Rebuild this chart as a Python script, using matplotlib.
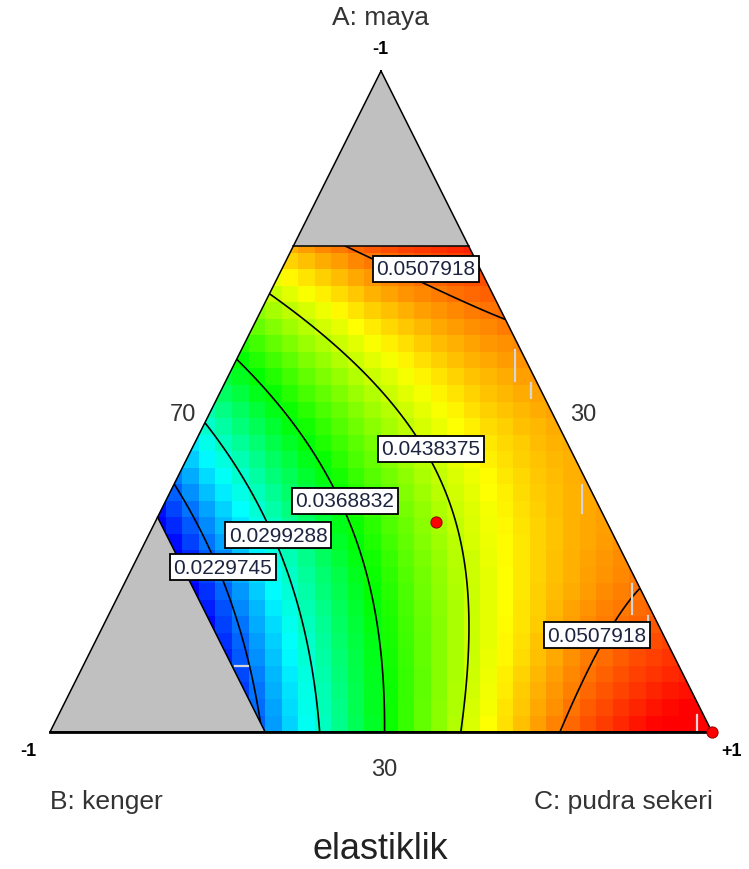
import numpy as np
import matplotlib
matplotlib.use("Agg")
import matplotlib.pyplot as plt
from matplotlib.colors import LinearSegmentedColormap
from matplotlib.patches import Polygon

plt.rcParams['font.family'] = ['Liberation Sans', 'DejaVu Sans']

# response: elastiklik, contour levels as printed on the chart
levels = [0.0229745, 0.0299288, 0.0368832, 0.0438375, 0.0507918]

# contour traces, (A, C) proportions, B = 1 - A - C
trace_1 = [(0.375, 0.005), (0.325, 0.056), (0.277, 0.104), (0.216, 0.164),
           (0.121, 0.237), (0.035, 0.295), (0.008, 0.315)]
trace_2 = [(0.464, 0.005), (0.418, 0.058), (0.375, 0.104), (0.319, 0.165),
           (0.262, 0.219), (0.201, 0.272), (0.130, 0.328), (0.005, 0.402)]
trace_3 = [(0.561, 0.006), (0.499, 0.097), (0.433, 0.177), (0.372, 0.237),
           (0.318, 0.294), (0.206, 0.380), (0.130, 0.433), (0.005, 0.504)]
trace_4 = [(0.666, 0.001), (0.599, 0.108), (0.545, 0.201), (0.484, 0.282),
           (0.398, 0.383), (0.307, 0.461), (0.231, 0.515), (0.156, 0.556),
           (0.080, 0.590), (0.005, 0.620)]
trace_5 = [(0.732, 0.095), (0.681, 0.229), (0.648, 0.326), (0.629, 0.375),
           (0.219, 0.784), (0.160, 0.770), (0.121, 0.765), (0.065, 0.768),
           (0.005, 0.768)]
traces = [trace_1, trace_2, trace_3, trace_4, trace_5]

# colour readings at a few spots (A, C, value)
spot_values = [(0.325, 0.0, 0.0195), (0.0, 1.0, 0.0565), (0.735, 0.0, 0.0490),
               (0.735, 0.265, 0.0540), (0.40, 0.60, 0.0490)]

# value range of the colour scale (blue .. red)
color_lo, color_hi = 0.0190, 0.0550

# constraints of the mixture region
a_max = 0.735
b_max = 0.675

# design points (A, C)
design_pts = [(0.318, 0.424), (0.0, 1.0)]

# faint marks inside the region: (A, C, length in px, vertical?)
faint_marks = [(0.554, 0.425, 31, True), (0.516, 0.469, 15, True),
               (0.352, 0.628, 28, True), (0.201, 0.778, 30, True),
               (0.171, 0.818, 6, True), (0.014, 0.970, 15, True),
               (0.100, 0.239, 13, False)]


def terms(a, b, c):
    return np.stack([a, b, c, a * b, a * c, b * c, a * b * c,
                     a * b * (a - b), a * c * (a - c), b * c * (b - c)], axis=-1)


rows, vals = [], []
for lev, tr in zip(levels, traces):
    for a, c in tr:
        rows.append((a, c))
        vals.append(lev)
for a, c, v in spot_values:
    rows.append((a, c))
    vals.append(v)
rows = np.array(rows)
A_, C_ = rows[:, 0], rows[:, 1]
X = terms(A_, 1 - A_ - C_, C_)
coef, *_ = np.linalg.lstsq(X, np.array(vals), rcond=None)


def model(a, c):
    return terms(a, 1 - a - c, c) @ coef


def to_xy(a, c):
    return c + a / 2.0, a


W, H = 749, 870
fig = plt.figure(figsize=(W / 100, H / 100), dpi=100)
left_px, right_px, top_px, bot_px = 50, 712, 72, 733
ax = fig.add_axes([left_px / W, 1 - bot_px / H, (right_px - left_px) / W,
                   (bot_px - top_px) / H])
ax.set_xlim(0, 1)
ax.set_ylim(0, 1)
ax.axis('off')

# whole simplex in gray
tri = Polygon([to_xy(1, 0), to_xy(0, 0), to_xy(0, 1)], closed=True,
              facecolor='#c0c0c0', edgecolor='none', zorder=1)
ax.add_patch(tri)

# feasible region
region = [to_xy(a_max, 0), to_xy(a_max, 1 - a_max), to_xy(0, 1),
          to_xy(0, 1 - b_max), to_xy(1 - b_max, 0)]
clip = Polygon(region, closed=True, facecolor='none', edgecolor='none')
ax.add_patch(clip)

# coloured cells, 40 x 40
n = 40
cx = (np.arange(n) + 0.5) / n
gx, gy = np.meshgrid(cx, cx)
ga = gy
gc = gx - ga / 2
zc = model(ga, gc)
cmap = LinearSegmentedColormap.from_list(
    'de', ['#0000ff', '#00ffff', '#00ff00', '#ffff00', '#ff0000'])
im = ax.imshow(zc, origin='lower', extent=(0, 1, 0, 1), cmap=cmap,
               vmin=color_lo, vmax=color_hi, interpolation='nearest',
               aspect='auto', zorder=2)
im.set_clip_path(clip)

# contour lines
m = 400
fx = np.linspace(0, 1, m)
FX, FY = np.meshgrid(fx, fx)
FA = FY
FC = FX - FA / 2
zf = model(FA, FC)
cs = ax.contour(FX, FY, zf, levels=levels, colors='black', linewidths=1.2,
                zorder=3)
cs.set_clip_path(clip)

# faint marks
for a, c, ln, vert in faint_marks:
    x, y = to_xy(a, c)
    if vert:
        d = ln / 2 / (bot_px - top_px)
        ax.plot([x, x], [y - d, y + d], color='#d6d6d6', lw=1.6, zorder=3.5)
    else:
        d = ln / 2 / (right_px - left_px)
        ax.plot([x - d, x + d], [y, y], color='#d6d6d6', lw=1.6, zorder=3.5)

# outlines
ax.plot(*zip(*[to_xy(1, 0), to_xy(0, 0), to_xy(0, 1), to_xy(1, 0)]),
        color='black', lw=1.1, zorder=4, clip_on=False)
ax.plot(*zip(to_xy(a_max, 0), to_xy(a_max, 1 - a_max)), color='black', lw=1.1, zorder=4)
ax.plot(*zip(to_xy(0, 1 - b_max), to_xy(1 - b_max, 0)), color='black', lw=1.1, zorder=4)
ax.plot(*zip(to_xy(0, 0), to_xy(0, 1)), color='black', lw=2, zorder=4, clip_on=False)

for a, c in design_pts:
    x, y = to_xy(a, c)
    ax.plot(x, y, 'o', ms=8, color='#ff0000', mec='#a00000', mew=0.8,
            zorder=6, clip_on=False)


def fxy(px, py):
    return px / W, 1 - py / H


# contour labels (pixel centres)
label_spots = [(426, 270, levels[4]), (431, 450, levels[3]), (345, 502, levels[2]),
               (278, 536, levels[1]), (223, 568, levels[0]), (597, 636, levels[4])]
for px, py, lev in label_spots:
    fig.text(*fxy(px, py), f'{lev:.7f}', ha='center', va='center',
             fontsize=15, color='#1c2440', zorder=10,
             bbox=dict(boxstyle='square,pad=0.18', fc='white', ec='black', lw=1.3))

gray_txt = '#333333'
fig.text(*fxy(380, 18), 'A: maya', ha='center', va='center', fontsize=19, color=gray_txt)
fig.text(*fxy(380, 50), '-1', ha='center', va='center', fontsize=13,
         fontweight='bold', color='black')
fig.text(*fxy(28, 752), '-1', ha='center', va='center', fontsize=13,
         fontweight='bold', color='black')
fig.text(*fxy(731, 752), '+1', ha='center', va='center', fontsize=13,
         fontweight='bold', color='black')
fig.text(*fxy(183, 415), '70', ha='center', va='center', fontsize=17, color=gray_txt)
fig.text(*fxy(583, 415), '30', ha='center', va='center', fontsize=17, color=gray_txt)
fig.text(*fxy(384, 770), '30', ha='center', va='center', fontsize=17, color=gray_txt)
fig.text(*fxy(50, 802), 'B: kenger', ha='left', va='center', fontsize=19, color=gray_txt)
fig.text(*fxy(713, 802), 'C: pudra sekeri', ha='right', va='center', fontsize=19, color=gray_txt)
fig.text(*fxy(380, 850), 'elastiklik', ha='center', va='center', fontsize=26, color='#222222')

fig.savefig('out.png', dpi=100)
